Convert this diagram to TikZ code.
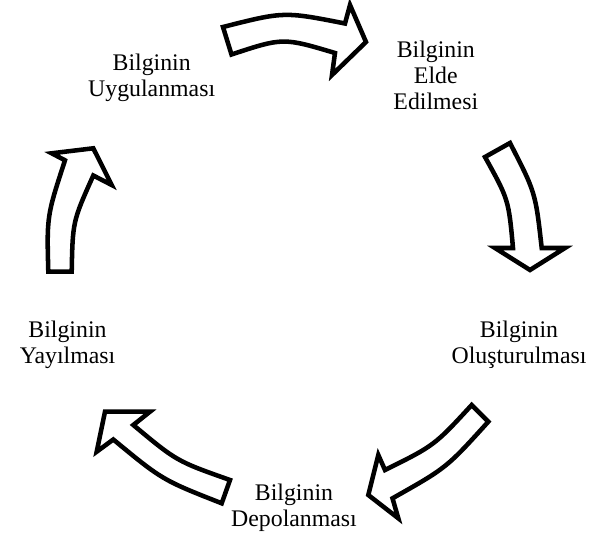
\documentclass[tikz,border=0pt]{standalone}
\usepackage{fontspec}
\setmainfont{Liberation Serif}
\begin{document}
\begin{tikzpicture}[x=0.75pt,y=-0.75pt,
  blockarrow/.style={draw=black, fill=white, line width=3.4pt, line join=miter},
  stage/.style={font=\fontsize{17.85}{19.5}\selectfont, align=center, inner sep=0pt, anchor=base}]
\useasboundingbox (0,0) rectangle (597,541);

% stage labels (anchored at the baseline of their last line)
\node[stage] (uyg)  at (151.7,96.7)  {Bilginin\\Uygulanması};
\node[stage] (elde) at (435.8,110)   {Bilginin\\Elde\\Edilmesi};
\node[stage] (olus) at (519,363.3)   {Bilginin\\Oluşturulması};
\node[stage] (depo) at (294,526.7)   {Bilginin\\Depolanması};
\node[stage] (yay)  at (67.5,363.3)  {Bilginin\\Yayılması};

% curved block arrows of the cycle
\draw[blockarrow] (223,27) .. controls (284,11.5) .. (345,23.5) -- (350,5) -- (366,42)
  -- (332,75) -- (335,53) .. controls (283,37.5) .. (231.5,54.5) -- cycle;
\draw[blockarrow] (510,143) .. controls (535.5,192.6) .. (541.7,248) -- (565,248)
  -- (530,270) -- (495,248) -- (513,248) .. controls (508.6,199.6) .. (485,157) -- cycle;
\draw[blockarrow] (471.7,405) .. controls (434.4,445.5) .. (385,470) -- (378.3,455)
  -- (368.3,495) -- (398.3,518.3) -- (392.5,498.3) .. controls (446.6,467.8) .. (488.3,421.7) -- cycle;
\draw[blockarrow] (230,480) .. controls (176.7,461.2) .. (133.3,425) -- (150,411.7)
  -- (105,411.7) -- (96.7,451.7) -- (113.3,439.5) .. controls (162.4,480) .. (221.7,503.3) -- cycle;
\draw[blockarrow] (48.3,271.7) .. controls (46.8,216) .. (65,160.3) -- (51.7,153.3)
  -- (93.3,148.3) -- (111.7,185) -- (93.3,175.5) .. controls (72.7,221.4) .. (71.7,271.7) -- cycle;
\end{tikzpicture}
\end{document}
